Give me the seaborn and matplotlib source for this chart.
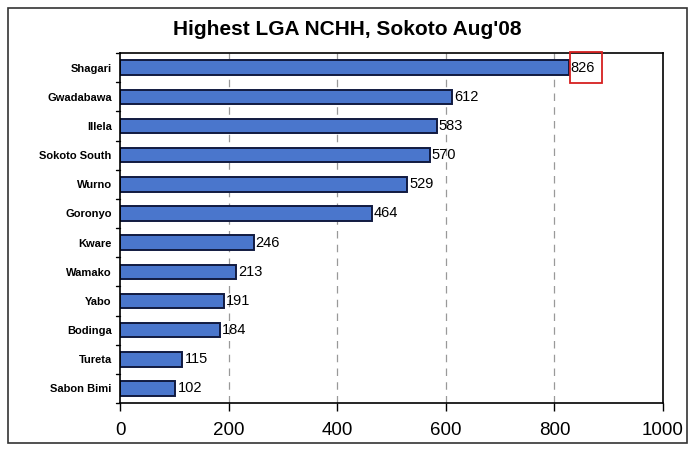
import matplotlib
matplotlib.use("Agg")
import matplotlib.pyplot as plt
from matplotlib.patches import Rectangle
import seaborn as sns
import pandas as pd

categories = ["Shagari", "Gwadabawa", "Illela", "Sokoto South", "Wurno", "Goronyo",
              "Kware", "Wamako", "Yabo", "Bodinga", "Tureta", "Sabon Bimi"]
values = [826, 612, 583, 570, 529, 464, 246, 213, 191, 184, 115, 102]
xticks = [0, 200, 400, 600, 800, 1000]

df = pd.DataFrame({"lga": categories, "nchh": values})

sns.set_style("white")
plt.rcParams["font.family"] = ["Liberation Sans", "DejaVu Sans"]
plt.rcParams["text.color"] = "black"
plt.rcParams["xtick.color"] = "black"
plt.rcParams["ytick.color"] = "black"

fig = plt.figure(figsize=(6.95, 4.5), dpi=100)
ax = fig.add_axes([0.1727, 0.1044, 0.7813, 0.7776])

sns.barplot(data=df, y="lga", x="nchh", orient="h", color="#4a76cc",
            edgecolor="#111a40", linewidth=1.4, width=0.5, saturation=1, ax=ax)

ax.set_xlim(0, 1000)
ax.set_xticks(xticks)
ax.set_xticklabels([str(t) for t in xticks], fontsize=13.5)
ax.set_xlabel("")
ax.set_ylabel("")
ax.set_ylim(len(categories) - 0.5, -0.5)

# y ticks between categories
ax.set_yticks(range(len(categories)))
ax.set_yticklabels(categories, fontsize=8, fontweight="bold")
ax.tick_params(axis="y", length=0, pad=6)
for b in [i - 0.5 for i in range(len(categories) + 1)]:
    ax.plot([-0.008, 0], [b, b], color="black", lw=1, transform=ax.get_yaxis_transform(), clip_on=False)
ax.tick_params(axis="x", direction="out", length=6, width=1, color="black", bottom=True, pad=8)

for x in xticks[1:-1]:
    ax.axvline(x, color="#999999", lw=0.9, ls=(0, (6, 5)), zorder=0)

for s in ax.spines.values():
    s.set_visible(True)
    s.set_color("black")
    s.set_linewidth(1.2)

for i, v in enumerate(values):
    ax.annotate(str(v), xy=(v, i), xytext=(1.5, 0), textcoords="offset points",
                va="center", ha="left", fontsize=10.5, color="black")

# red highlight box around top value label
ax.add_patch(Rectangle((829, -0.55), 58, 1.08, fill=False, edgecolor="#d62020", lw=1.3,
                       clip_on=False, zorder=5))

fig.suptitle("Highest LGA NCHH, Sokoto Aug'08", y=0.955, fontsize=15, fontweight="bold")

fig.patches.append(Rectangle((0.012, 0.015), 0.977, 0.968, transform=fig.transFigure,
                             fill=False, edgecolor="#333333", lw=1.2))

fig.savefig("out.png", dpi=100)
